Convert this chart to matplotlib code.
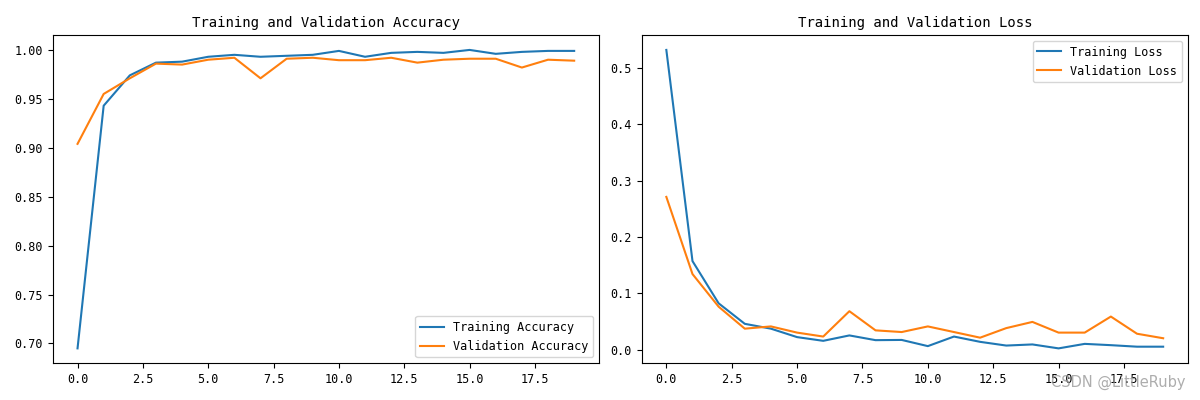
import matplotlib
matplotlib.use('Agg')
import matplotlib.pyplot as plt

# SimHei-like look: narrow monospaced Latin
plt.rcParams['font.family'] = ['DejaVu Sans Mono', 'Noto Sans CJK SC']
plt.rcParams['font.size'] = 8.5

epochs = list(range(20))

train_acc = [0.695, 0.943, 0.974, 0.987, 0.988, 0.993, 0.995, 0.993, 0.994, 0.995,
             0.999, 0.993, 0.997, 0.998, 0.997, 1.000, 0.996, 0.998, 0.999, 0.999]
val_acc = [0.904, 0.955, 0.971, 0.986, 0.985, 0.990, 0.992, 0.971, 0.991, 0.992,
           0.9895, 0.9895, 0.992, 0.987, 0.990, 0.991, 0.991, 0.982, 0.990, 0.989]

train_loss = [0.532, 0.157, 0.082, 0.0456, 0.037, 0.022, 0.0154, 0.025, 0.0166, 0.017,
              0.006, 0.023, 0.0136, 0.007, 0.009, 0.002, 0.010, 0.0077, 0.005, 0.005]
val_loss = [0.271, 0.134, 0.076, 0.037, 0.041, 0.030, 0.023, 0.068, 0.034, 0.031,
            0.041, 0.031, 0.021, 0.038, 0.049, 0.030, 0.030, 0.0585, 0.028, 0.020]

fig = plt.figure(figsize=(12, 4), dpi=100)
ax1 = fig.add_axes([52.7 / 1200, 1 - 363.3 / 400, (599 - 52.7) / 1200, (363.3 - 35) / 400])
ax2 = fig.add_axes([641.5 / 1200, 1 - 363.3 / 400, (1188 - 641.5) / 1200, (363.3 - 35) / 400])

ax1.plot(epochs, train_acc, label='Training Accuracy')
ax1.plot(epochs, val_acc, label='Validation Accuracy')
ax1.legend(loc='lower right')
ax1.set_title('Training and Validation Accuracy', fontsize=10)

ax2.plot(epochs, train_loss, label='Training Loss')
ax2.plot(epochs, val_loss, label='Validation Loss')
ax2.legend(loc='upper right')
ax2.set_title('Training and Validation Loss', fontsize=10)

fig.text(0.988, 0.025, 'CSDN @LittleRuby', ha='right', va='bottom',
         fontsize=10.5, color='#999999', alpha=0.8, family='DejaVu Sans')

plt.savefig('out.png', dpi=100)
plt.close()
